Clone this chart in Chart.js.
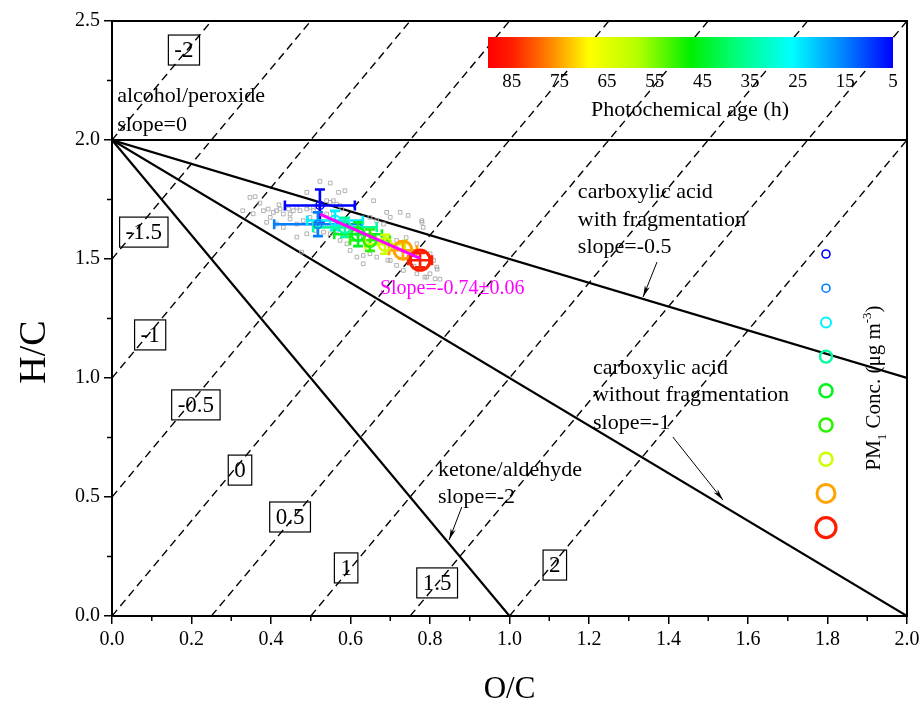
<!DOCTYPE html>
<html>
<head>
<meta charset="utf-8">
<title>Van Krevelen diagram</title>
<script src="https://cdn.jsdelivr.net/npm/chart.js@4.4.0/dist/chart.umd.min.js"></script>
<style>
  html, body { margin: 0; padding: 0; background: #fff; }
  #wrap { width: 924px; height: 709px; }
</style>
</head>
<body>
<div id="wrap"><canvas id="vk" width="924" height="709"></canvas></div>
<script>
// ---- data ----
// photochemical age bins (h), binned means and spreads
const ageBins = [5, 15, 25, 35, 45, 50, 62, 75, 85];
const ocMean  = [0.523, 0.518, 0.561, 0.586, 0.619, 0.649, 0.687, 0.732, 0.775];
const hcMean  = [1.725, 1.646, 1.662, 1.633, 1.604, 1.579, 1.562, 1.537, 1.495];
const ocErr   = [0.088, 0.110, 0.070, 0.080, 0.060, 0.050, 0.050, 0.035, 0.030];
const hcErr   = [0.067, 0.050, 0.040, 0.040, 0.050, 0.045, 0.040, 0.035, 0.030];

// individual samples (grey squares)
const greyOC = [0.523, 0.549, 0.490, 0.570, 0.586, 0.329, 0.347, 0.360, 0.381, 0.393,
                0.406, 0.414, 0.423, 0.431, 0.444, 0.448, 0.456, 0.465, 0.473, 0.490,
                0.498, 0.507, 0.515, 0.540, 0.549, 0.557, 0.565, 0.574, 0.578, 0.557,
                0.540, 0.498, 0.481, 0.465, 0.448, 0.398, 0.389, 0.414, 0.431, 0.511,
                0.532, 0.549, 0.565, 0.582, 0.599, 0.616, 0.632, 0.649, 0.666, 0.683,
                0.691, 0.700, 0.716, 0.716, 0.733, 0.750, 0.767, 0.779, 0.783, 0.800,
                0.809, 0.817, 0.800, 0.792, 0.813, 0.767, 0.733, 0.716, 0.700, 0.666,
                0.649, 0.632, 0.616, 0.599, 0.591, 0.574, 0.649, 0.666, 0.683, 0.700,
                0.658, 0.691, 0.477, 0.632, 0.507, 0.465, 0.490, 0.725, 0.745, 0.780,
                0.818, 0.825, 0.787, 0.694, 0.355, 0.372, 0.420, 0.612, 0.740, 0.760];
const greyHC = [1.826, 1.819, 1.780, 1.780, 1.787, 1.703, 1.759, 1.762, 1.703, 1.710,
                1.696, 1.703, 1.710, 1.689, 1.710, 1.689, 1.703, 1.717, 1.703, 1.710,
                1.717, 1.703, 1.720, 1.745, 1.738, 1.745, 1.731, 1.724, 1.710, 1.689,
                1.689, 1.675, 1.661, 1.647, 1.668, 1.675, 1.654, 1.647, 1.633, 1.620,
                1.613, 1.606, 1.620, 1.599, 1.620, 1.606, 1.592, 1.599, 1.578, 1.585,
                1.564, 1.550, 1.578, 1.543, 1.536, 1.522, 1.564, 1.661, 1.633, 1.522,
                1.494, 1.466, 1.438, 1.424, 1.417, 1.438, 1.452, 1.473, 1.494, 1.508,
                1.522, 1.515, 1.508, 1.536, 1.564, 1.578, 1.675, 1.661, 1.647, 1.675,
                1.745, 1.696, 1.529, 1.480, 1.647, 1.592, 1.606, 1.696, 1.683, 1.654,
                1.457, 1.415, 1.424, 1.495, 1.690, 1.735, 1.728, 1.655, 1.590, 1.470];

// linear fit through the binned means
const fitSlope = -0.74;
const fitSlopeErr = 0.06;
const fitIntercept = 2.076;
const fitOC = [0.523, 0.775];

// reference lines through (0, 2) and oxidation state (OSc = 2 O/C - H/C) lines
const refSlopes = [0, -0.5, -1, -2];
const osLevels = [-2, -1.5, -1, -0.5, 0, 0.5, 1, 1.5, 2];

// colour bar ticks (h)
const barTicks = [85, 75, 65, 55, 45, 35, 25, 15, 5];

// ---- styling / layout ----
const FONT = '"Liberation Serif", "Times New Roman", serif';
const AGE_LEFT = 90, AGE_RIGHT = 5;
const cmapStops = [
  [0.00, 255, 0, 0], [0.06, 255, 30, 0], [0.15, 255, 130, 0], [0.25, 255, 255, 0],
  [0.37, 180, 255, 0], [0.50, 0, 240, 0], [0.62, 0, 255, 130], [0.75, 0, 255, 255],
  [0.87, 0, 140, 255], [1.00, 0, 0, 255]
];
const markerRadius = [4, 4, 5, 6, 6.5, 6.5, 6.5, 9, 10];
const markerWidth  = [1.6, 1.6, 2, 2.4, 2.6, 2.6, 2.6, 3, 3.2];

// boxed OSc labels, positioned in data units
const osBoxPos = [
  [0.181, 2.378], [0.080, 1.613], [0.096, 1.181], [0.211, 0.887], [0.322, 0.613],
  [0.448, 0.416], [0.589, 0.202], [0.818, 0.139], [1.114, 0.214]
];

function cmap(t) {
  t = Math.max(0, Math.min(1, t));
  for (let i = 1; i < cmapStops.length; i++) {
    const a = cmapStops[i - 1], b = cmapStops[i];
    if (t <= b[0]) {
      const f = (t - a[0]) / (b[0] - a[0]);
      const c = [1, 2, 3].map(k => Math.round(a[k] + (b[k] - a[k]) * f));
      return `rgb(${c[0]},${c[1]},${c[2]})`;
    }
  }
  return 'rgb(0,0,255)';
}
const ageT = age => (AGE_LEFT - age) / (AGE_LEFT - AGE_RIGHT);
const ageColors = ageBins.map(a => cmap(ageT(a)));

function refLine(slope) {
  const xEnd = slope === 0 ? 2 : Math.min(2, -2 / slope);
  return [{ x: 0, y: 2 }, { x: xEnd, y: 2 + slope * xEnd }];
}
function osLine(k) {
  const x0 = Math.max(0, k / 2);
  const x1 = Math.min(2, (2.5 + k) / 2);
  return [{ x: x0, y: 2 * x0 - k }, { x: x1, y: 2 * x1 - k }];
}

const datasets = [];
osLevels.forEach(k => datasets.push({
  label: 'os', data: osLine(k), showLine: true, pointRadius: 0,
  borderColor: '#000', borderWidth: 1.4, borderDash: [8, 5], order: 6
}));
refSlopes.forEach(s => datasets.push({
  label: 'ref', data: refLine(s), showLine: true, pointRadius: 0,
  borderColor: '#000', borderWidth: 2.2, order: 5
}));
datasets.push({
  label: 'grey', data: greyOC.map((x, i) => ({ x, y: greyHC[i] })),
  pointStyle: 'rect', pointRadius: 2.6, borderWidth: 1,
  borderColor: 'rgba(170,170,170,0.9)', backgroundColor: 'rgba(0,0,0,0)', order: 4
});
datasets.push({
  label: 'age', data: ocMean.map((x, i) => ({ x, y: hcMean[i] })),
  pointRadius: markerRadius, pointBorderWidth: markerWidth,
  pointBorderColor: ageColors, pointBackgroundColor: 'rgba(0,0,0,0)', order: 2
});
datasets.push({
  label: 'fit', data: fitOC.map(x => ({ x, y: fitIntercept + fitSlope * x })),
  showLine: true, pointRadius: 0, borderColor: '#ff00ff', borderWidth: 3, order: 1
});

function text(ctx, s, x, y, size, align, color) {
  ctx.font = `${size}px ${FONT}`;
  ctx.fillStyle = color || '#000';
  ctx.textAlign = align || 'left';
  ctx.textBaseline = 'middle';
  ctx.fillText(s, x, y);
}
function arrow(ctx, x0, y0, x1, y1) {
  const a = Math.atan2(y1 - y0, x1 - x0), L = 12, w = 0.22;
  ctx.strokeStyle = '#000'; ctx.fillStyle = '#000'; ctx.lineWidth = 1;
  ctx.beginPath(); ctx.moveTo(x0, y0); ctx.lineTo(x1, y1); ctx.stroke();
  ctx.beginPath();
  ctx.moveTo(x1, y1);
  ctx.lineTo(x1 - L * Math.cos(a - w), y1 - L * Math.sin(a - w));
  ctx.lineTo(x1 - L * 0.7 * Math.cos(a), y1 - L * 0.7 * Math.sin(a));
  ctx.lineTo(x1 - L * Math.cos(a + w), y1 - L * Math.sin(a + w));
  ctx.closePath(); ctx.fill();
}

const overlay = {
  id: 'overlay',
  beforeDatasetDraw(chart, args) {
    if (chart.data.datasets[args.index].label !== 'age') return;
    const { ctx, scales: { x, y } } = chart;
    ctx.save();
    ocMean.forEach((oc, i) => {
      const px = x.getPixelForValue(oc), py = y.getPixelForValue(hcMean[i]);
      const xl = x.getPixelForValue(oc - ocErr[i]), xr = x.getPixelForValue(oc + ocErr[i]);
      const yt = y.getPixelForValue(hcMean[i] + hcErr[i]), yb = y.getPixelForValue(hcMean[i] - hcErr[i]);
      ctx.strokeStyle = ageColors[i]; ctx.lineWidth = 2.6;
      ctx.beginPath();
      ctx.moveTo(xl, py); ctx.lineTo(xr, py);
      ctx.moveTo(xl, py - 5); ctx.lineTo(xl, py + 5);
      ctx.moveTo(xr, py - 5); ctx.lineTo(xr, py + 5);
      ctx.moveTo(px, yt); ctx.lineTo(px, yb);
      ctx.moveTo(px - 5, yt); ctx.lineTo(px + 5, yt);
      ctx.moveTo(px - 5, yb); ctx.lineTo(px + 5, yb);
      ctx.stroke();
    });
    ctx.restore();
  },
  afterDraw(chart) {
    const { ctx, chartArea: ca, scales: { x, y } } = chart;
    const X = v => x.getPixelForValue(v), Y = v => y.getPixelForValue(v);
    ctx.save();

    // frame + minor ticks
    ctx.strokeStyle = '#000'; ctx.lineWidth = 2;
    ctx.strokeRect(ca.left, ca.top, ca.right - ca.left, ca.bottom - ca.top);
    ctx.lineWidth = 1.5;
    ctx.beginPath();
    for (let v = 0.1; v < 2; v += 0.2) { ctx.moveTo(X(v), ca.bottom); ctx.lineTo(X(v), ca.bottom + 5); }
    for (let v = 0.25; v < 2.5; v += 0.5) { ctx.moveTo(ca.left, Y(v)); ctx.lineTo(ca.left - 5, Y(v)); }
    ctx.stroke();

    // axis titles
    text(ctx, 'O/C', (ca.left + ca.right) / 2, 690, 31, 'center');
    ctx.save(); ctx.translate(35, 352); ctx.rotate(-Math.PI / 2);
    text(ctx, 'H/C', 0, 0, 38, 'center'); ctx.restore();

    // boxed OSc labels
    osLevels.forEach((k, i) => {
      const s = String(k);
      const cx = X(osBoxPos[i][0]), cy = Y(osBoxPos[i][1]);
      ctx.font = `23px ${FONT}`;
      const w = ctx.measureText(s).width + 12, h = 30;
      ctx.lineWidth = 1.2; ctx.strokeStyle = '#000';
      ctx.strokeRect(cx - w / 2, cy - h / 2, w, h);
      text(ctx, s, cx, cy + 1, 23, 'center');
    });

    // annotations
    const fs = 22;
    text(ctx, 'alcohol/peroxide', X(0.013), Y(2.182), fs);
    text(ctx, 'slope=0', X(0.013), Y(2.063), fs);
    text(ctx, 'carboxylic acid', X(1.172), Y(1.782), fs);
    text(ctx, 'with fragmentation', X(1.172), Y(1.664), fs);
    text(ctx, 'slope=-0.5', X(1.172), Y(1.550), fs);
    arrow(ctx, X(1.371), Y(1.487), X(1.336), Y(1.340));
    text(ctx, 'carboxylic acid', X(1.210), Y(1.042), fs);
    text(ctx, 'without fragmentation', X(1.210), Y(0.929), fs);
    text(ctx, 'slope=-1', X(1.210), Y(0.811), fs);
    arrow(ctx, X(1.411), Y(0.752), X(1.537), Y(0.487));
    text(ctx, 'ketone/aldehyde', X(0.820), Y(0.613), fs);
    text(ctx, 'slope=-2', X(0.820), Y(0.500), fs);
    arrow(ctx, X(0.880), Y(0.458), X(0.848), Y(0.319));
    text(ctx, `Slope=${fitSlope}\u00b1${fitSlopeErr.toFixed(2)}`, X(0.674), Y(1.374), 20, 'left', '#ff00ff');

    // colour bar
    const bx0 = 488, bx1 = 893, by0 = 37, by1 = 68;
    const grad = ctx.createLinearGradient(bx0, 0, bx1, 0);
    cmapStops.forEach(s => grad.addColorStop(s[0], `rgb(${s[1]},${s[2]},${s[3]})`));
    ctx.fillStyle = grad;
    ctx.fillRect(bx0, by0, bx1 - bx0, by1 - by0);
    barTicks.forEach(a => text(ctx, String(a), bx0 + ageT(a) * (bx1 - bx0), 82, 19, 'center'));
    text(ctx, 'Photochemical age (h)', 690, 110, 22, 'center');

    // PM1 size legend
    ageColors.forEach((c, i) => {
      ctx.beginPath();
      ctx.arc(826, 254 + i * 34.2, markerRadius[i], 0, Math.PI * 2);
      ctx.strokeStyle = c; ctx.lineWidth = markerWidth[i]; ctx.stroke();
    });
    ctx.save(); ctx.translate(873, 388); ctx.rotate(-Math.PI / 2);
    const parts = [['PM', 21, 0], ['1', 13, 6], [' Conc. (\u03bcg m', 21, 0], ['-3', 13, -9], [')', 21, 0]];
    let tw = 0;
    parts.forEach(p => { ctx.font = `${p[1]}px ${FONT}`; tw += ctx.measureText(p[0]).width; });
    let cx = -tw / 2;
    ctx.fillStyle = '#000'; ctx.textBaseline = 'alphabetic'; ctx.textAlign = 'left';
    parts.forEach(p => {
      ctx.font = `${p[1]}px ${FONT}`;
      ctx.fillText(p[0], cx, 7 + p[2]);
      cx += ctx.measureText(p[0]).width;
    });
    ctx.restore();

    ctx.restore();
  }
};

const axisFont = { family: FONT, size: 20 };
new Chart(document.getElementById('vk'), {
  type: 'scatter',
  data: { datasets },
  options: {
    responsive: false,
    animation: false,
    devicePixelRatio: 1,
    layout: { padding: { top: 21, right: 17, left: 0, bottom: 0 } },
    plugins: { legend: { display: false }, tooltip: { enabled: false } },
    scales: {
      x: {
        type: 'linear', min: 0, max: 2,
        afterFit: s => { s.height = 93; },
        ticks: { stepSize: 0.2, autoSkip: false, maxRotation: 0, padding: 4, color: '#000',
                 font: axisFont, callback: v => Number(v).toFixed(1) },
        grid: { drawOnChartArea: false, tickLength: 8, color: '#000', lineWidth: 1.5 },
        border: { color: '#000', width: 2 }
      },
      y: {
        type: 'linear', min: 0, max: 2.5,
        afterFit: s => { s.width = 112; },
        ticks: { stepSize: 0.5, padding: 4, color: '#000',
                 font: axisFont, callback: v => Number(v).toFixed(1) },
        grid: { drawOnChartArea: false, tickLength: 8, color: '#000', lineWidth: 1.5 },
        border: { color: '#000', width: 2 }
      }
    }
  },
  plugins: [overlay]
});
</script>
</body>
</html>
